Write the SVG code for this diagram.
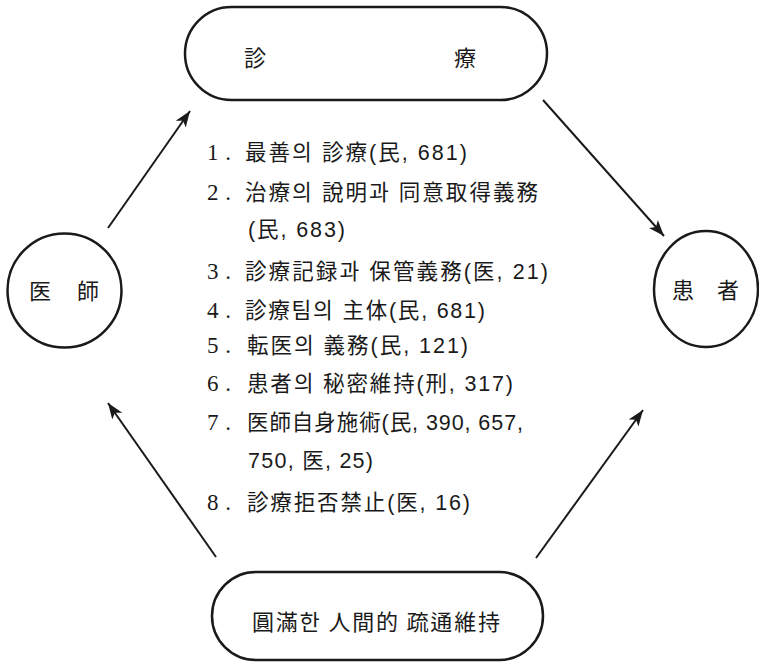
<svg xmlns="http://www.w3.org/2000/svg" width="759" height="662" viewBox="0 0 759 662">
<style>
.box{fill:#fff;stroke:#1a1a1a;stroke-width:2.5}
.lbl{font-family:"Noto Sans CJK KR","Noto Sans CJK SC",sans-serif;font-size:22px;fill:#1a1a1a}
.item{font-family:"Liberation Sans","Noto Sans CJK KR",sans-serif;font-size:21.5px;fill:#1a1a1a}
.num{font-family:"Liberation Serif","Noto Sans CJK KR",serif;font-size:23px;fill:#1a1a1a}
.conn{stroke:#1a1a1a;stroke-width:2;fill:none;marker-end:url(#ah)}
</style>
<defs>
<marker id="ah" markerUnits="userSpaceOnUse" markerWidth="18" markerHeight="12" refX="16" refY="6" orient="auto">
<path d="M0,0 L16,6 L0,12 L4,6 Z" fill="#1a1a1a"/>
</marker>
</defs>
<rect width="759" height="662" fill="#fff"/>
<g id="connectors">
<line class="conn" x1="108" y1="228" x2="190" y2="111"/>
<line class="conn" x1="543" y1="100" x2="664" y2="236"/>
<line class="conn" x1="216" y1="557" x2="108" y2="403"/>
<line class="conn" x1="536" y1="558" x2="643" y2="410"/>
</g>
<g id="node-diagnosis">
<rect class="box" x="185" y="7" width="362" height="93" rx="46.5"/>
<text class="lbl" x="255" y="66" text-anchor="middle">診</text>
<text class="lbl" x="465" y="66" text-anchor="middle">療</text>
</g>
<g id="node-doctor">
<circle class="box" cx="64.5" cy="290.5" r="57"/>
<text class="lbl" x="40" y="298.5" text-anchor="middle">医</text>
<text class="lbl" x="88" y="298.5" text-anchor="middle">師</text>
</g>
<g id="node-patient">
<ellipse class="box" cx="706" cy="289" rx="52" ry="58"/>
<text class="lbl" x="683" y="297.5" text-anchor="middle">患</text>
<text class="lbl" x="728" y="297.5" text-anchor="middle">者</text>
</g>
<g id="node-communication">
<rect class="box" x="212" y="572" width="331" height="88" rx="44"/>
<text class="lbl" x="252" y="630" textLength="248" lengthAdjust="spacing">圓滿한 人間的 疏通維持</text>
</g>
<g id="list">
<text class="num" x="207" y="160" textLength="24" lengthAdjust="spacing">1.</text>
<text class="item" x="245" y="160" textLength="222" lengthAdjust="spacing">最善의 診療(民, 681)</text>
<text class="num" x="207" y="200" textLength="24" lengthAdjust="spacing">2.</text>
<text class="item" x="245" y="200" textLength="293" lengthAdjust="spacing">治療의 說明과 同意取得義務</text>
<text class="item" x="248" y="237" textLength="97" lengthAdjust="spacing">(民, 683)</text>
<text class="num" x="207" y="279" textLength="24" lengthAdjust="spacing">3.</text>
<text class="item" x="245" y="279" textLength="303" lengthAdjust="spacing">診療記録과 保管義務(医, 21)</text>
<text class="num" x="207" y="318" textLength="24" lengthAdjust="spacing">4.</text>
<text class="item" x="245" y="318" textLength="240" lengthAdjust="spacing">診療팀의 主体(民, 681)</text>
<text class="num" x="207" y="353" textLength="24" lengthAdjust="spacing">5.</text>
<text class="item" x="247" y="353" textLength="221" lengthAdjust="spacing">転医의 義務(民, 121)</text>
<text class="num" x="207" y="391" textLength="24" lengthAdjust="spacing">6.</text>
<text class="item" x="247" y="391" textLength="266" lengthAdjust="spacing">患者의 秘密維持(刑, 317)</text>
<text class="num" x="207" y="430" textLength="24" lengthAdjust="spacing">7.</text>
<text class="item" x="247" y="430" textLength="276" lengthAdjust="spacing">医師自身施術(民, 390, 657,</text>
<text class="item" x="248" y="468" textLength="125" lengthAdjust="spacing">750, 医, 25)</text>
<text class="num" x="207" y="510" textLength="24" lengthAdjust="spacing">8.</text>
<text class="item" x="247" y="510" textLength="223" lengthAdjust="spacing">診療拒否禁止(医, 16)</text>
</g>
</svg>
